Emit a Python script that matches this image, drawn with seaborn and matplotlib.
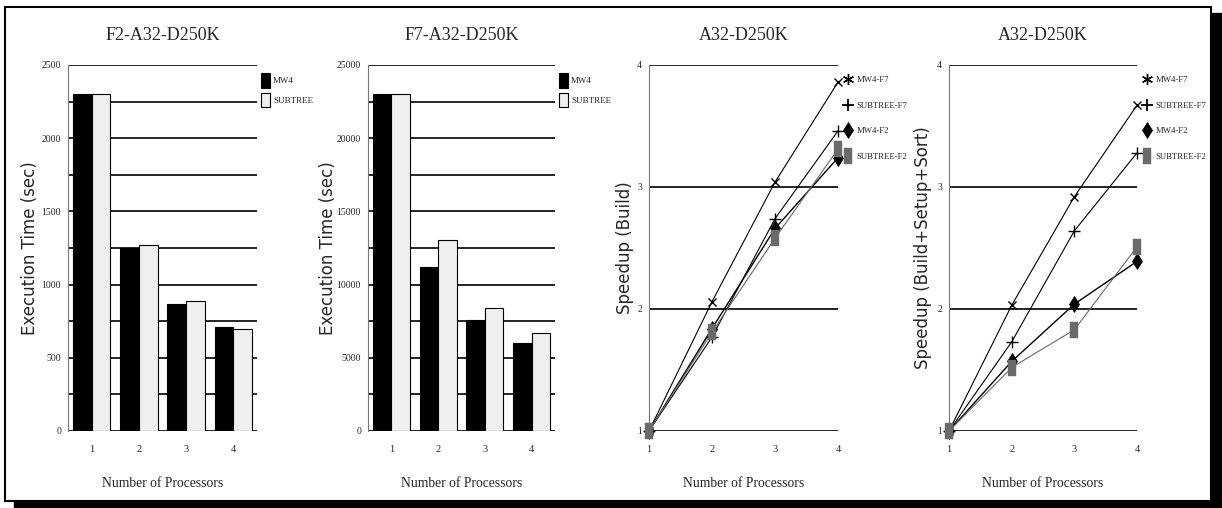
import numpy as np
import pandas as pd
import matplotlib
matplotlib.use('Agg')
import matplotlib.pyplot as plt
from matplotlib.patches import Rectangle, Patch
from matplotlib.lines import Line2D
import seaborn as sns

procs = [1, 2, 3, 4]
algs = ['MW4', 'SUBTREE']

# execution time (sec)
f2_mw4 = [2300, 1250, 865, 708]
f2_subtree = [2300, 1270, 888, 696]
f7_mw4 = [23050, 11200, 7600, 6000]
f7_subtree = [23050, 13060, 8400, 6680]

# speedup curves
series = ['MW4-F7', 'SUBTREE-F7', 'MW4-F2', 'SUBTREE-F2']
build_mw4_f7 = [1, 2.06, 3.04, 3.86]
build_subtree_f7 = [1, 1.77, 2.74, 3.46]
build_mw4_f2 = [1, 1.84, 2.66, 3.24]
build_subtree_f2 = [1, 1.81, 2.58, 3.31]
total_mw4_f7 = [1, 2.03, 2.92, 3.67]
total_subtree_f7 = [1, 1.73, 2.64, 3.28]
total_mw4_f2 = [1, 1.57, 2.04, 2.39]
total_subtree_f2 = [1, 1.52, 1.83, 2.51]

sns.set_style('white')
plt.rcParams['font.family'] = ['Liberation Serif', 'DejaVu Serif']

SERIF = 'Liberation Serif'
SANS = 'DejaVu Sans'

tall_rect = [(-0.55, -1), (0.55, -1), (0.55, 1), (-0.55, 1), (-0.55, -1)]
line_style = {
    'MW4-F7':     dict(color='black', marker='x', markersize=6, mew=1.0, lw=0.8),
    'SUBTREE-F7': dict(color='black', marker='+', markersize=8, mew=1.0, lw=0.8),
    'MW4-F2':     dict(color='black', marker='d', markersize=8, mew=0.5, lw=1.0),
    'SUBTREE-F2': dict(color='#6a6a6a', marker=tall_rect, markersize=11, mew=0.3, lw=0.8),
}
legend_marker = {
    'MW4-F7':     dict(color='black', marker=(6, 2, 0), markersize=8, mew=1.0),
    'SUBTREE-F7': dict(color='black', marker='+', markersize=9, mew=1.3),
    'MW4-F2':     dict(color='black', marker='d', markersize=8, mew=0.5),
    'SUBTREE-F2': dict(color='#6a6a6a', marker=tall_rect, markersize=11, mew=0.3),
}

fig = plt.figure(figsize=(12.22, 5.08), dpi=100)

# page frame with drop shadow
fig.patches.append(Rectangle((14 / 1222, 0), 1208 / 1222, 495 / 508,
                             transform=fig.transFigure, color='black', zorder=-2))
fig.patches.append(Rectangle((5 / 1222, 7 / 508), 1206 / 1222, 494 / 508,
                             transform=fig.transFigure, facecolor='white',
                             edgecolor='black', lw=1.5, zorder=-1))

H = 366 / 508
B = 77 / 508
axes_pos = [(68, 189), (368, 187), (649, 189), (949, 188)]
axs = [fig.add_axes([l / 1222, B, w / 1222, H]) for l, w in axes_pos]


def style_common(ax, title, ylabel, ylab_x):
    ax.set_facecolor('none')
    for s in ['top', 'right', 'bottom']:
        ax.spines[s].set_visible(False)
    ax.spines['left'].set_color('#777777')
    ax.spines['left'].set_linewidth(0.8)
    ax.set_title(title, fontsize=13, family=SERIF, y=1.081, va='center', pad=0)
    ax.set_xlabel('Number of Processors', fontsize=9.8, family=SERIF)
    ax.xaxis.set_label_coords(0.5, -0.143)
    ax.xaxis.label.set_va('center')
    ax.set_ylabel(ylabel, fontsize=12, family=SANS)
    ax.yaxis.set_label_coords(ylab_x, 0.5)
    ax.yaxis.label.set_va('center')
    ax.tick_params(axis='x', length=0, pad=10, labelsize=7.5)
    ax.tick_params(axis='y', length=3, width=0.8, color='#777777', pad=2, labelsize=7)
    ax.yaxis.grid(True, color='black', lw=1.2)
    ax.set_axisbelow(True)


def bar_panel(ax, title, mw4, subtree, top, major, ylab_x):
    df = pd.DataFrame({
        'procs': procs * 2,
        'time': mw4 + subtree,
        'alg': [algs[0]] * 4 + [algs[1]] * 4,
    })
    sns.barplot(data=df, x='procs', y='time', hue='alg', hue_order=algs,
                 palette=['black', '#efefef'], edgecolor='black', linewidth=0.8,
                 width=0.79, legend=False, ax=ax)
    ax.set_xlim(-0.5, 3.5)
    ax.set_ylim(0, top)
    ticks = np.arange(0, top + 1, major / 2)
    ax.set_yticks(ticks)
    ax.set_yticklabels([str(int(t)) if t % major == 0 else '' for t in ticks])
    style_common(ax, title, 'Execution Time (sec)', ylab_x)
    handles = [Patch(facecolor=c, edgecolor='black', lw=0.8) for c in ['black', '#efefef']]
    ax.legend(handles, algs, loc='upper left', bbox_to_anchor=(1.02, 0.978),
              frameon=False, fontsize=6.5, handlelength=1.0, handleheight=2.1,
              handletextpad=0.35, labelspacing=0.55, borderpad=0, borderaxespad=0)


def speed_panel(ax, ylabel, vals, ylab_x):
    for name, v in zip(series, vals):
        st = line_style[name]
        sns.lineplot(x=procs, y=v, ax=ax, color=st['color'], marker=st['marker'],
                     markersize=st['markersize'], markeredgewidth=st['mew'],
                     markeredgecolor=st['color'], lw=st['lw'], clip_on=False, zorder=3)
    ax.set_xlim(1, 4)
    ax.set_ylim(1, 4)
    ax.set_xticks(procs)
    ax.set_yticks([1, 2, 3, 4])
    style_common(ax, 'A32-D250K', ylabel, ylab_x)
    handles = []
    for name in series:
        st = legend_marker[name]
        handles.append(Line2D([], [], ls='none', color=st['color'], marker=st['marker'],
                              markersize=st['markersize'], markeredgewidth=st['mew'],
                              markeredgecolor=st['color']))
    ax.legend(handles, series, loc='upper left', bbox_to_anchor=(1.025, 0.97),
              frameon=False, fontsize=6.3, handlelength=1.1, handletextpad=0.45,
              labelspacing=2.0, borderpad=0, borderaxespad=0)


bar_panel(axs[0], 'F2-A32-D250K', f2_mw4, f2_subtree, 2500, 500, -0.2)
bar_panel(axs[1], 'F7-A32-D250K', f7_mw4, f7_subtree, 25000, 5000, -0.214)
speed_panel(axs[2], 'Speedup (Build)',
            [build_mw4_f7, build_subtree_f7, build_mw4_f2, build_subtree_f2], -0.127)
speed_panel(axs[3], 'Speedup (Build+Setup+Sort)',
            [total_mw4_f7, total_subtree_f7, total_mw4_f2, total_subtree_f2], -0.138)

fig.savefig('out.png', dpi=100)
